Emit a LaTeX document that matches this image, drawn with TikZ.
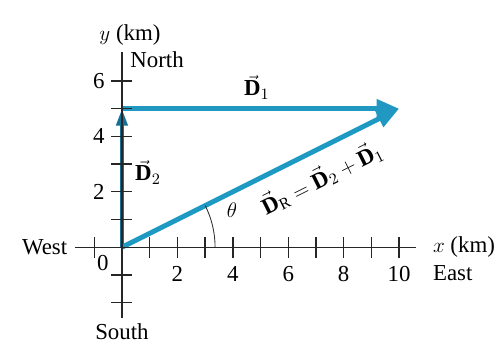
\documentclass[tikz,border=0pt]{standalone}
\usepackage{amsmath,amssymb}
\usepackage{fontspec}
\setmainfont{Liberation Serif}
\usepackage{tikz}
\usetikzlibrary{arrows.meta}
\usepackage{xcolor}
\definecolor{vecblue}{RGB}{32,152,194}
\definecolor{vecdark}{RGB}{22,112,150}

\begin{document}
\begin{tikzpicture}[x=0.554cm,y=0.554cm,every node/.style={font=\fontsize{13}{15}\selectfont},
  vec/.style={vecblue,line width=2.8pt},
  axis/.style={black!85,line width=0.8pt}]
\useasboundingbox (-4.40,-3.47) rectangle (13.64,8.92);
\coordinate (O) at (0,0);
\coordinate (N) at (0,5);
\coordinate (E) at (10,5);
% vectors
\draw[vec,vecdark,line width=2.3pt,-{Triangle[length=0.34cm,width=0.22cm]}] (O) -- (N);
\draw[vec,-{Triangle[length=0.45cm,width=0.36cm]}] (N) -- (E);
\draw[vec,-{Triangle[length=0.45cm,width=0.36cm]}] (O) -- (E);
% axes
\draw[axis] (-1.7,0) -- (10.6,0);
\draw[axis] (0,-2.56) -- (0,7.04);
\foreach \i in {-1,1,2,...,10} \draw[axis] (\i,-0.38) -- (\i,0.38);
\foreach \j in {-2,-1,1,2,...,6} \draw[axis] (-0.38,\j) -- (0.38,\j);
% angle
\draw[black!80,line width=0.5pt] (3.36,0) arc[start angle=0,end angle=26.57,radius=3.36];
\node (theta) at (3.97,1.34) {$\theta$};
% axis labels
\node (ylab) at (0.29,7.65) {$y$ (km)};
\node[anchor=west] (north) at (0.08,6.75) {North};
\node[anchor=east] (west) at (-1.75,0) {West};
\node[anchor=west] (xlab) at (11.0,0) {$x$ (km)};
\node[anchor=west] (east) at (11.0,-0.94) {East};
\node (south) at (0,-3.05) {South};
\node (zero) at (-0.69,-0.58) {0};
\foreach \i in {2,4,...,10} \node (xt\i) at (\i,-0.95) {\i};
\foreach \j in {2,4,6} \node[anchor=east] (yt\j) at (-0.4,\j) {\j};
% vector labels
\node (d1) at (4.87,5.78) {$\vec{\mathbf{D}}_1$};
\node (d2) at (0.94,2.71) {$\vec{\mathbf{D}}_2$};
\node[rotate=26.57] (dr) at (7.2,2.5) {$\vec{\mathbf{D}}_{\mathrm{R}}=\vec{\mathbf{D}}_2+\vec{\mathbf{D}}_1$};
\end{tikzpicture}
\end{document}
